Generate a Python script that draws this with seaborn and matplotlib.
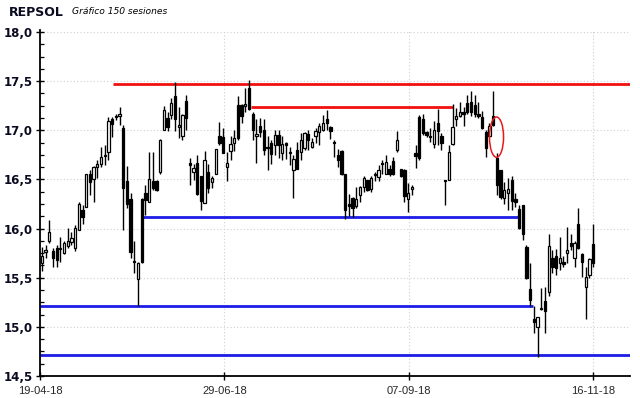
import matplotlib

matplotlib.use("Agg")
import matplotlib.pyplot as plt  # noqa: E402
import numpy as np  # noqa: E402
import seaborn as sns  # noqa: E402
from matplotlib.patches import Ellipse  # noqa: E402
from matplotlib.ticker import FuncFormatter, MultipleLocator  # noqa: E402

# daily candles, 150 sessions (open / high / low / close)
opens = [
    15.65, 15.76, 15.87, 15.77, 15.80, 15.79, 15.75, 15.82, 15.86, 15.80,
    15.99, 16.19, 16.22, 16.55, 16.50, 16.63, 16.66, 16.74, 16.78, 17.11,
    17.13, 17.15, 17.02, 16.48, 16.30, 15.67, 15.49, 16.30, 16.36, 16.27,
    16.48, 16.48, 16.58, 17.00, 17.12, 17.16, 17.35, 17.03, 16.94, 17.30,
    16.67, 16.58, 16.67, 16.53, 16.26, 16.58, 16.47, 16.55, 16.94, 16.93,
    16.63, 16.79, 16.87, 17.26, 17.26, 17.25, 17.43, 17.17, 16.94, 17.04,
    17.00, 16.83, 16.87, 16.85, 16.95, 16.77, 16.87, 16.78, 16.60, 16.80,
    16.78, 16.82, 16.96, 16.83, 16.94, 16.98, 17.00, 17.11, 17.03, 16.88,
    16.75, 16.79, 16.55, 16.25, 16.31, 16.23, 16.34, 16.42, 16.49, 16.40,
    16.56, 16.52, 16.67, 16.55, 16.61, 16.69, 16.80, 16.61, 16.60, 16.30,
    16.40, 16.77, 17.13, 17.11, 16.98, 16.94, 16.86, 17.07, 16.94, 16.49,
    16.49, 16.86, 17.11, 17.15, 17.19, 17.28, 17.29, 17.26, 17.17, 17.14,
    16.98, 16.94, 17.15, 16.72, 16.60, 16.31, 16.36, 16.49, 16.30, 16.20,
    16.24, 15.81, 15.39, 15.08, 15.00, 15.18, 15.26, 15.35, 15.70, 15.72,
    15.65, 15.66, 15.75, 15.85, 15.70, 16.05, 15.74, 15.41, 15.53, 15.84,
]
highs = [
    15.81, 15.83, 16.09, 15.80, 15.83, 15.91, 15.87, 16.01, 15.97, 16.04,
    16.27, 16.24, 16.55, 16.60, 16.64, 16.70, 16.83, 16.85, 17.14, 17.14,
    17.17, 17.24, 17.05, 16.64, 16.36, 15.87, 15.66, 16.31, 16.44, 16.78,
    16.78, 16.49, 16.91, 17.25, 17.19, 17.33, 17.49, 17.24, 17.17, 17.36,
    16.72, 16.66, 16.75, 16.53, 16.79, 16.66, 16.53, 16.81, 17.08, 17.02,
    16.78, 16.94, 17.00, 17.35, 17.27, 17.43, 17.51, 17.19, 17.11, 17.12,
    17.11, 16.94, 16.90, 17.00, 17.00, 16.94, 16.88, 16.83, 16.75, 16.88,
    16.97, 16.98, 17.00, 16.92, 17.02, 17.07, 17.16, 17.21, 17.04, 16.90,
    16.81, 16.80, 16.55, 16.35, 16.32, 16.42, 16.43, 16.53, 16.49, 16.53,
    16.58, 16.65, 16.70, 16.75, 16.65, 16.73, 16.99, 16.61, 16.61, 16.46,
    16.44, 16.85, 17.16, 17.17, 16.99, 17.02, 17.09, 17.22, 16.97, 16.49,
    16.85, 17.27, 17.23, 17.29, 17.24, 17.36, 17.40, 17.36, 17.29, 17.20,
    17.00, 17.07, 17.40, 16.77, 16.60, 16.47, 16.51, 16.53, 16.36, 16.24,
    16.24, 15.83, 15.65, 15.21, 15.10, 15.40, 15.41, 15.94, 15.78, 15.79,
    15.91, 15.72, 16.02, 15.94, 15.87, 16.21, 15.75, 15.61, 15.70, 16.05,
]
lows = [
    15.57, 15.70, 15.85, 15.61, 15.61, 15.66, 15.74, 15.80, 15.83, 15.77,
    15.99, 16.05, 16.22, 16.34, 16.27, 16.51, 16.63, 16.65, 16.70, 16.93,
    17.10, 17.05, 15.99, 16.21, 15.70, 15.55, 15.21, 15.65, 16.14, 16.27,
    16.39, 16.38, 16.55, 17.00, 16.99, 17.11, 16.99, 16.92, 16.90, 17.00,
    16.44, 16.49, 16.34, 16.19, 16.26, 16.36, 16.41, 16.55, 16.85, 16.77,
    16.48, 16.70, 16.79, 16.90, 17.07, 17.19, 17.21, 16.90, 16.67, 16.93,
    16.75, 16.60, 16.66, 16.75, 16.72, 16.70, 16.71, 16.65, 16.31, 16.61,
    16.70, 16.80, 16.80, 16.82, 16.87, 16.85, 16.99, 17.00, 16.91, 16.73,
    16.63, 16.54, 16.10, 16.13, 16.12, 16.21, 16.27, 16.37, 16.38, 16.37,
    16.48, 16.48, 16.56, 16.55, 16.53, 16.54, 16.78, 16.52, 16.27, 16.17,
    16.34, 16.62, 16.70, 16.95, 16.93, 16.88, 16.82, 16.85, 16.80, 16.24,
    16.49, 16.85, 17.04, 17.14, 17.04, 17.17, 17.15, 17.14, 17.12, 17.01,
    16.73, 16.93, 17.04, 16.34, 16.30, 16.25, 16.19, 16.19, 16.22, 16.00,
    15.88, 15.49, 15.21, 14.94, 14.69, 15.17, 14.94, 15.31, 15.55, 15.53,
    15.58, 15.61, 15.65, 15.78, 15.61, 15.79, 15.51, 15.08, 15.50, 15.61,
]
closes = [
    15.72, 15.78, 15.97, 15.70, 15.68, 15.80, 15.85, 15.87, 15.90, 16.01,
    16.25, 16.12, 16.55, 16.47, 16.63, 16.66, 16.73, 16.75, 17.09, 17.06,
    17.14, 17.16, 16.41, 16.25, 15.76, 15.66, 15.65, 15.66, 16.29, 16.50,
    16.41, 16.39, 16.90, 17.21, 17.03, 17.28, 17.11, 17.05, 17.16, 17.12,
    16.65, 16.62, 16.35, 16.28, 16.70, 16.41, 16.51, 16.81, 16.87, 16.77,
    16.67, 16.86, 16.92, 16.92, 17.15, 17.27, 17.22, 17.00, 16.96, 16.98,
    16.80, 16.82, 16.76, 16.95, 16.85, 16.86, 16.85, 16.77, 16.71, 16.61,
    16.90, 16.97, 16.90, 16.88, 16.99, 17.04, 17.07, 17.07, 16.99, 16.87,
    16.70, 16.55, 16.19, 16.23, 16.21, 16.30, 16.42, 16.51, 16.39, 16.51,
    16.54, 16.60, 16.66, 16.68, 16.56, 16.56, 16.90, 16.53, 16.33, 16.36,
    16.42, 16.74, 16.72, 16.97, 16.95, 16.93, 17.00, 16.99, 16.87, 16.48,
    16.78, 17.03, 17.15, 17.19, 17.17, 17.19, 17.19, 17.17, 17.15, 17.02,
    16.82, 17.04, 17.05, 16.44, 16.32, 16.39, 16.40, 16.28, 16.27, 16.01,
    15.94, 15.50, 15.27, 15.05, 15.10, 15.19, 15.16, 15.82, 15.61, 15.60,
    15.70, 15.64, 15.78, 15.82, 15.85, 15.80, 15.66, 15.51, 15.69, 15.65,
]
date_labels = ["19-04-18", "29-06-18", "07-09-18", "16-11-18"]

# support / resistance lines: price level, first and last session covered
red_levels = [17.47, 17.235]
red_starts = [19.3, 56.4]
red_ends = [159.0, 111.2]
blue_levels = [16.115, 15.21, 14.71]
blue_starts = [27.4, -0.5, -0.5]
blue_ends = [128.7, 132.8, 159.0]

# marked session (red ellipse)
mark_session = 122.9
mark_price = 16.93

sns.set_theme(style="white")
plt.rcParams["font.family"] = ["DejaVu Sans"]

o = np.array(opens)
h = np.array(highs)
lo = np.array(lows)
c = np.array(closes)
x = np.arange(len(o))
up = c >= o

fig = plt.figure(figsize=(6.4, 3.98), dpi=100)
ax = fig.add_axes([0.0625, 0.0553, 0.922, 0.8693])
ax.set_axisbelow(True)

# horizontal levels
for lvl, s, e in zip(red_levels, red_starts, red_ends):
    ax.hlines(lvl, s, e, color="#f01010", lw=2.0, zorder=2)
for lvl, s, e in zip(blue_levels, blue_starts, blue_ends):
    ax.hlines(lvl, s, e, color="#1c1ce6", lw=2.0, zorder=2)

# candles
ax.vlines(x, lo, h, color="black", lw=1.0, zorder=3)
body = np.maximum(np.abs(c - o), 0.012)
bottom = np.minimum(o, c)
ax.bar(x[up], body[up], bottom=bottom[up], width=0.62, color="white",
       edgecolor="black", linewidth=0.9, zorder=4)
ax.bar(x[~up], body[~up], bottom=bottom[~up], width=0.62, color="black",
       edgecolor="black", linewidth=0.9, zorder=4)

ax.add_patch(Ellipse((mark_session, mark_price), 3.8, 0.41, fill=False,
                     edgecolor="#e81818", lw=1.1, zorder=5))

ax.set_xlim(-0.5, 159)
ax.set_ylim(14.5, 18.02)

ax.set_xticks(np.linspace(-0.5, 149, len(date_labels)))
ax.set_xticklabels(date_labels, fontsize=8, family="Liberation Sans")
ax.yaxis.set_major_locator(MultipleLocator(0.5))
ax.yaxis.set_minor_locator(MultipleLocator(0.125))
ax.yaxis.set_major_formatter(FuncFormatter(lambda v, _: f"{v:.1f}".replace(".", ",")))
for lab in ax.get_yticklabels():
    lab.set_fontweight("bold")
    lab.set_fontsize(8.5)
    lab.set_color("#0a0a20")

ax.tick_params(axis="both", which="major", direction="inout", length=6,
               width=1.0, color="black", pad=2, left=True, bottom=True)
ax.tick_params(axis="y", which="minor", direction="in", length=3, width=0.9,
               color="black", left=True)
ax.tick_params(axis="x", labelsize=8, pad=4)

ax.grid(True, which="major", color="#cfcfd6", linestyle=(0, (1, 2)), lw=0.8)

for side in ("top", "right"):
    ax.spines[side].set_visible(False)
for side in ("left", "bottom"):
    ax.spines[side].set_color("black")
    ax.spines[side].set_linewidth(1.3)

fig.text(9 / 640, 1 - 12 / 398, "REPSOL", fontsize=9, fontweight="bold",
         va="center", ha="left", color="#0a0a20")
fig.text(72 / 640, 1 - 12 / 398, "Gráfico 150 sesiones", fontsize=6.6,
         fontstyle="italic", va="center", ha="left", color="black")

fig.savefig("out.png", dpi=100)
